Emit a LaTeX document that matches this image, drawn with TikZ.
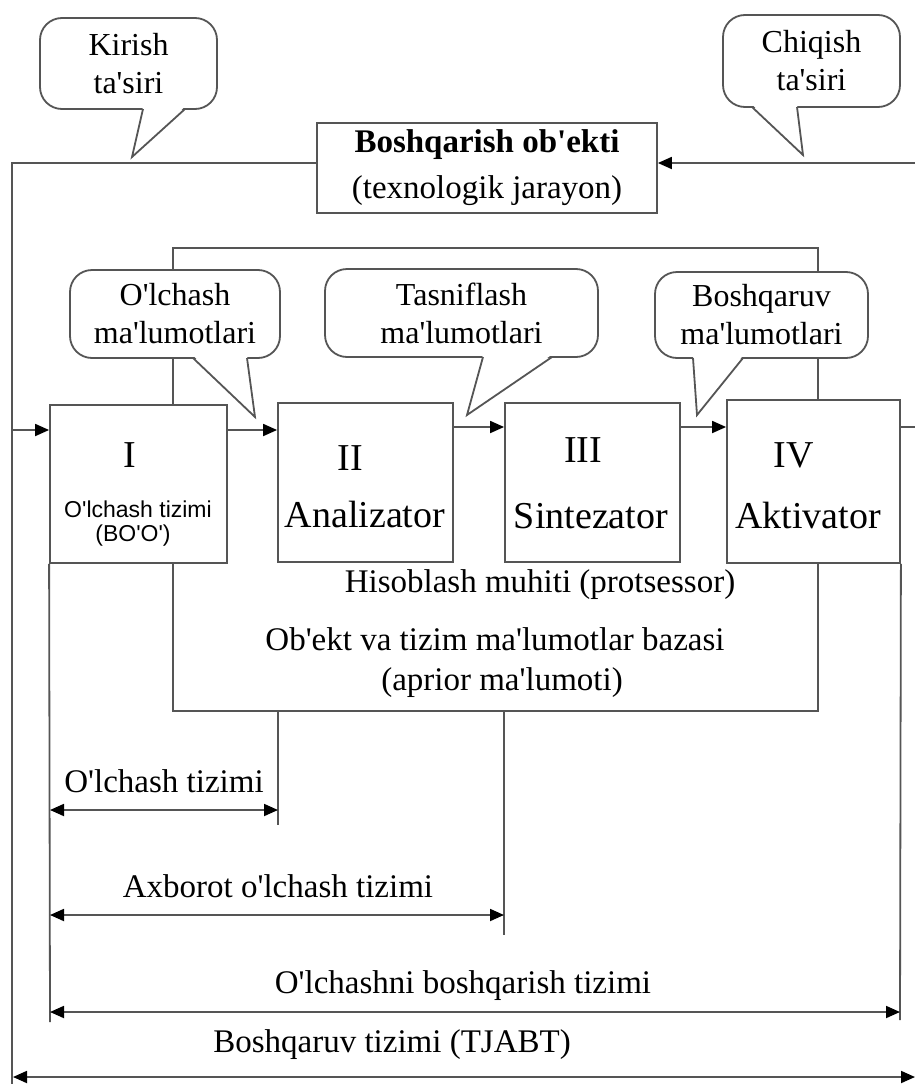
\documentclass[tikz,border=0pt]{standalone}
\usepackage{fontspec}
\setmainfont{Liberation Serif}[Ligatures=TeXOff]
\newfontfamily\boxsans{Liberation Sans}[Ligatures=TeXOff]
\usetikzlibrary{arrows.meta,calc}
\definecolor{lc}{RGB}{85,85,85}
\newcommand\mytail[4]{%
  \fill[white] (#1,#3-2.5) -- (#4) -- (#2,#3-2.5) -- cycle;
  \draw[ln] (#1,#3) -- (#4) -- (#2,#3);}
\begin{document}
\begin{tikzpicture}[x=1pt,y=-1pt,
  ln/.style={draw=lc,line width=1.8pt},
  blk/.style={ln,fill=white,inner sep=0pt,align=center},
  bubble/.style={ln,fill=white,rounded corners=22pt,inner sep=0pt,align=center,
    font=\fontsize{32}{38}\selectfont},
  arr/.style={ln,-{Triangle[length=14pt,width=12pt,color=black]}},
  dim/.style={ln,{Triangle[length=14pt,width=12pt,color=black]}-{Triangle[length=14pt,width=12pt,color=black]}},
  lbl/.style={anchor=base,inner sep=0pt,font=\fontsize{33}{38}\selectfont},
  big/.style={anchor=base,inner sep=0pt,font=\fontsize{38}{44}\selectfont},
  small/.style={anchor=base,inner sep=0pt,font=\boxsans\fontsize{23}{28}\selectfont}]
\useasboundingbox[fill=white] (0,0) rectangle (915,1084);

% database / processor frame
\node[ln,minimum width=645pt,minimum height=463pt,inner sep=0pt] (db) at (495.5,479.5) {};

% object box
\node[blk,minimum width=340pt,minimum height=90pt,font=\fontsize{33}{46}\selectfont] (obj) at (487,168)
  {\textbf{Boshqarish ob'ekti}\\(texnologik jarayon)};

% four blocks
\node[blk,minimum width=177pt,minimum height=158pt] (b1) at (138.5,484) {};
\node[blk,minimum width=175pt,minimum height=159pt] (b2) at (365.5,482.5) {};
\node[blk,minimum width=175pt,minimum height=159pt] (b3) at (592.5,482.5) {};
\node[blk,minimum width=173pt,minimum height=163pt] (b4) at (813.5,481.5) {};

\node[big] (t1) at (130,467) {I};
\node[small] (t1a) at (138,517) {O'lchash tizimi};
\node[small] (t1b) at (133,541) {(BO'O')};
\node[big] (t2) at (350,470) {II};
\node[big] (t2a) at (365,527) {Analizator};
\node[big] (t3) at (583,462) {III};
\node[big] (t3a) at (591,528) {Sintezator};
\node[big] (t4) at (794,467) {IV};
\node[big] (t4a) at (808,528) {Aktivator};

% callouts
\node[bubble,minimum width=177pt,minimum height=91pt] (c1) at (128.5,63.5) {Kirish\\ta'siri};
\node[bubble,minimum width=177pt,minimum height=92pt] (c2) at (811.5,61) {Chiqish\\ta'siri};
\node[bubble,minimum width=210pt,minimum height=88pt] (c3) at (175,314) {O'lchash\\ma'lumotlari};
\node[bubble,minimum width=273pt,minimum height=88pt] (c4) at (461.5,313) {Tasniflash\\ma'lumotlari};
\node[bubble,minimum width=213pt,minimum height=86pt] (c5) at (761.5,315) {Boshqaruv\\ma'lumotlari};
\coordinate (k1) at (132,157);
\coordinate (k2) at (803,155);
\coordinate (k3) at (255,417);
\coordinate (k4) at (467,415);
\coordinate (k5) at (697,415);
\mytail{143}{185}{109}{k1}
\mytail{752}{797}{107}{k2}
\mytail{193}{247}{358}{k3}
\mytail{483}{552}{357}{k4}
\mytail{693}{743}{358}{k5}

% feedback loop
\coordinate (oL) at (12,163);
\coordinate (oB) at (12,1084);
\coordinate (oR) at (915,163);
\coordinate (inL) at (12,430);
\coordinate (rowB) at (0,427);
\coordinate (outR) at (915,427);
\draw[ln] (obj.west |- oL) -- (oL) -- (oB);
\draw[arr] (oR) -- (obj.east |- oR);
\draw[arr] (inL) -- (b1.west |- inL);
\draw[arr] (b1.east |- inL) -- (b2.west |- inL);
\draw[arr] (b2.east |- rowB) -- (b3.west |- rowB);
\draw[arr] (b3.east |- rowB) -- (b4.west |- rowB);
\draw[ln] (b4.east |- outR) -- (outR);

% extension lines
\coordinate (e1) at (50,1022);
\coordinate (e2) at (278,825);
\coordinate (e3) at (504,935);
\coordinate (e4) at (900,1020);
\draw[ln] (b1.south west) -- (e1);
\draw[ln] (db.south -| e2) -- (e2);
\draw[ln] (db.south -| e3) -- (e3);
\draw[ln] (b4.south east) -- (e4);

% dimension arrows
\coordinate (d1) at (0,810);
\coordinate (d2) at (0,915);
\coordinate (d3) at (0,1012);
\coordinate (d4L) at (13,1077);
\coordinate (d4R) at (915,1077);
\draw[dim] (e1 |- d1) -- (e2 |- d1);
\draw[dim] (e1 |- d2) -- (e3 |- d2);
\draw[dim] (e1 |- d3) -- (e4 |- d3);
\draw[dim] (d4L) -- (d4R);

% labels
\node[lbl] (h1) at (540,592) {Hisoblash muhiti (protsessor)};
\node[lbl] (h2) at (495,650) {Ob'ekt va tizim ma'lumotlar bazasi};
\node[lbl] (h3) at (502,690) {(aprior ma'lumoti)};
\node[lbl] (m1) at (164,792) {O'lchash tizimi};
\node[lbl] (m2) at (278,897) {Axborot o'lchash tizimi};
\node[lbl] (m3) at (463,993) {O'lchashni boshqarish tizimi};
\node[lbl] (m4) at (392,1052) {Boshqaruv tizimi (TJABT)};
\end{tikzpicture}
\end{document}
